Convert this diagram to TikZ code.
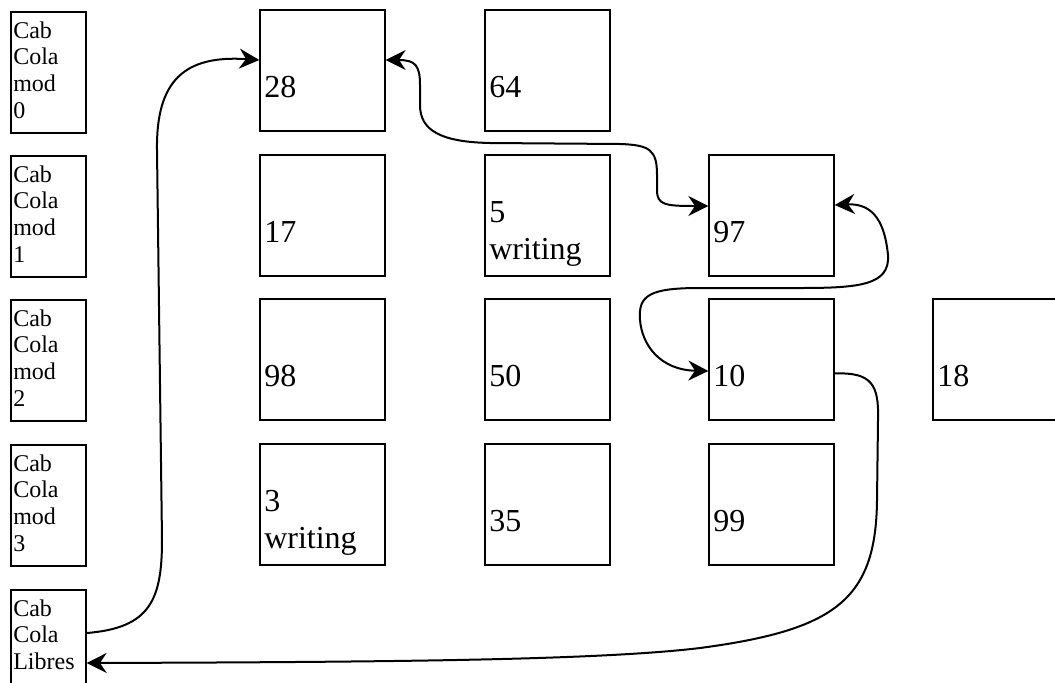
\documentclass[tikz,border=0pt]{standalone}
\usepackage{fontspec}
\setmainfont{Liberation Serif}
\usetikzlibrary{arrows.meta,calc}
\tikzset{
  headtip/.tip={Stealth[length=15pt,width=15pt,inset=5pt]}
}
\begin{document}
\begin{tikzpicture}[x=0.75pt,y=-0.75pt,
  cell/.style={draw, line width=1pt, minimum width=93.75pt, minimum height=90.75pt, inner sep=0pt},
  lcell/.style={draw, line width=1pt, minimum width=56.25pt, minimum height=90.75pt, inner sep=0pt},
  big/.style={font=\fontsize{24}{27.75}\selectfont, inner sep=0pt, align=left},
  small/.style={font=\fontsize{18}{20}\selectfont, inner sep=0pt, align=left, anchor=north west},
  link/.style={line width=1.5pt},
  arr/.style={-headtip},
  barr/.style={headtip-headtip}
]
\useasboundingbox (0,0) rectangle (1055,682);
\clip (0,0) rectangle (1055,682);
% left column
\node[lcell] (m0) at (48.5,72.5) {};
\node[lcell] (m1) at (48.5,216.5) {};
\node[lcell] (m2) at (48.5,360.5) {};
\node[lcell] (m3) at (48.5,505.5) {};
\node[lcell] (libres) at (48.5,650.5) {};
\node[small] (tm0) at (13,21.1) {Cab\\Cola\\mod\\0};
\node[small] (tm1) at (13,165.1) {Cab\\Cola\\mod\\1};
\node[small] (tm2) at (13,309.1) {Cab\\Cola\\mod\\2};
\node[small] (tm3) at (13,454.1) {Cab\\Cola\\mod\\3};
\node[small] (tlib) at (13,599.1) {Cab\\Cola\\Libres};
% grid boxes
\node[cell] (b28) at (322.5,70.5) {};
\node[cell] (b64) at (547.5,70.5) {};
\node[cell] (b17) at (322.5,215.5) {};
\node[cell] (b5) at (547.5,215.5) {};
\node[cell] (b97) at (771.5,215.5) {};
\node[cell] (b98) at (322.5,359.5) {};
\node[cell] (b50) at (547.5,359.5) {};
\node[cell] (b10) at (771.5,359.5) {};
\node[cell] (b18) at (995.5,359.5) {};
\node[cell] (b3) at (322.5,504.5) {};
\node[cell] (b35) at (547.5,504.5) {};
\node[cell] (b99) at (771.5,504.5) {};
% texts
\node[big, anchor=base west] (t28) at (264,97) {28};
\node[big, anchor=base west] (t64) at (489,97) {64};
\node[big, anchor=base west] (t17) at (264,242) {17};
\node[big, anchor=north west] (t5) at (489,201.4) {5\\writing};
\node[big, anchor=base west] (t97) at (713,242) {97};
\node[big, anchor=base west] (t98) at (264,386) {98};
\node[big, anchor=base west] (t50) at (489,386) {50};
\node[big, anchor=base west] (t10) at (713,386) {10};
\node[big, anchor=base west] (t18) at (937,386) {18};
\node[big, anchor=north west] (t3) at (264,490.4) {3\\writing};
\node[big, anchor=base west] (t35) at (489,531) {35};
\node[big, anchor=base west] (t99) at (713,531) {99};
% connectors
\draw[link, arr] ($(libres.east)+(0,-17.5)$) .. controls (150,628) and (162,600) .. (162,540)
  -- (157,150) .. controls (156,80) and (185,55) .. ($(b28.west)+(0,-10.5)$);
\draw[link, barr] ($(b28.east)+(0,-10.5)$) .. controls (415,60) and (420,65) .. (420,85)
  -- (420,105) .. controls (420,130) and (440,142) .. (490,143)
  -- (620,144) .. controls (650,145) and (657,150) .. (657,175)
  -- (657,190) .. controls (657,205) and (665,206) .. ($(b97.west)+(0,-9.5)$);
\draw[link, barr] ($(b97.east)+(0,-10.5)$) .. controls (875,203) and (885,225) .. (888,255)
  .. controls (890,285) and (860,288) .. (800,288)
  -- (700,288) .. controls (650,288) and (638,295) .. (640,320)
  .. controls (642,345) and (660,370) .. ($(b10.west)+(0,11.5)$);
\draw[link, arr] ($(b10.east)+(0,14)$) .. controls (872,372) and (879,385) .. (878,420)
  -- (877,500) .. controls (876,600) and (835,630) .. (700,648)
  .. controls (600,660) and (400,662) .. ($(libres.east)+(0,12.5)$);
\end{tikzpicture}
\end{document}
